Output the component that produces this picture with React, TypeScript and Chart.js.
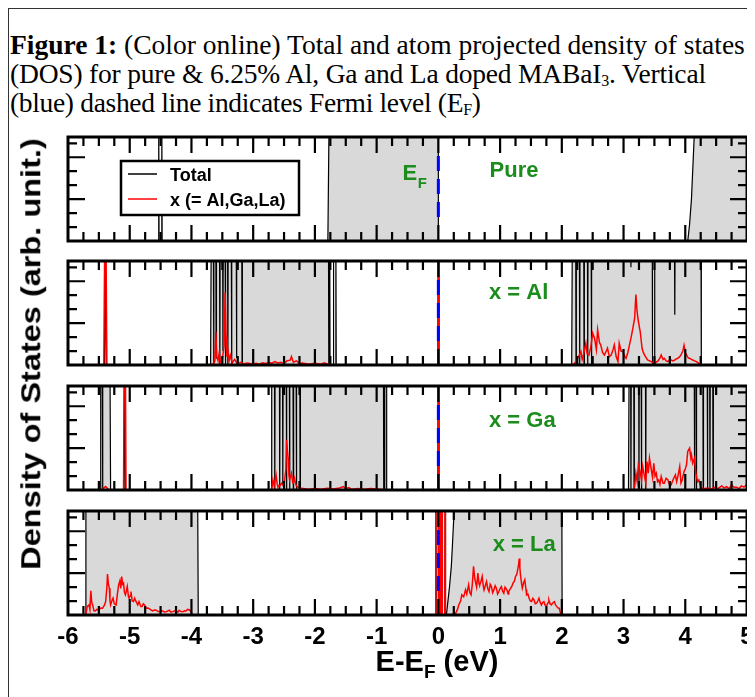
import React, { useEffect, useRef } from "react";
import { Chart, registerables } from "chart.js";
Chart.register(...registerables);

type Pt = [number, number];

// ---------- axis / tick data ----------
const xTickLabels = [-6, -5, -4, -3, -2, -1, 0, 1, 2, 3, 4, 5];
const xMinorStep = 0.25;
const yMajorTicks = [3, 6];
const yMinorTicks = [1, 2, 4, 5, 7];
const yMax = 7.45;
const panelLabels = ["Pure", "x = Al", "x = Ga", "x = La"];
const seriesNames = ["Total", "x (= Al,Ga,La)"];
const fermiDash: Pt[] = [[0, 1.72], [0, 6.16]];

// ---------- Pure ----------
const pureTotal: Pt[] = [
  [-6, 0], [-4.535, 0], [-4.53, 9], [-4.525, 0], [-4.485, 0], [-4.48, 9], [-4.475, 0],
  [-1.79, 0], [-1.77, 9], [0, 9], [0, 0],
  [4.04, 0], [4.07, 1.2], [4.1, 3], [4.12, 5], [4.14, 7], [4.16, 9], [5, 9],
];
const pureX: Pt[] = [];

// ---------- Al ----------
const alTotal: Pt[] = [
  [-6, 0], [-5.41, 0], [-5.395, 9], [-5.38, 0],
  [-3.69, 0], [-3.68, 9], [-3.645, 9], [-3.64, 0], [-3.635, 9], [-3.605, 9], [-3.6, 0.5], [-3.595, 9],
  [-3.545, 9], [-3.54, 0], [-3.535, 9], [-3.495, 9], [-3.49, 1], [-3.485, 9], [-3.455, 9], [-3.45, 0],
  [-3.445, 9], [-3.415, 9], [-3.41, 0], [-3.405, 9], [-3.355, 9], [-3.35, 0], [-3.345, 9], [-3.275, 9],
  [-3.27, 0.5], [-3.265, 9], [-3.185, 9], [-3.18, 0], [-3.175, 9], [-1.78, 9], [-1.775, 0], [-1.765, 0],
  [-1.76, 9], [-1.755, 0], [-1.705, 0], [-1.7, 9], [-1.695, 0], [-1.665, 0], [-1.66, 9], [-1.655, 0],
  [-0.01, 0], [0, 9], [0.01, 0],
  [2.16, 0], [2.17, 9], [2.225, 9], [2.23, 0], [2.235, 9], [2.285, 9], [2.29, 0], [2.295, 9], [2.355, 9],
  [2.36, 0], [2.365, 9], [2.415, 9], [2.42, 0], [2.425, 9], [2.475, 9], [2.48, 0], [2.485, 9], [3.115, 9],
  [3.12, 7], [3.125, 9], [3.465, 9], [3.47, 0], [3.5, 0], [3.505, 9], [3.825, 9], [3.83, 3.6], [3.835, 9],
  [4.255, 9], [4.26, 0], [5, 0],
];
const alX: Pt[] = [
  [-6, 0], [-5.42, 0], [-5.405, 9], [-5.385, 9], [-5.37, 0],
  [-3.7, 0], [-3.64, 0.1], [-3.62, 0.3], [-3.605, 2.4], [-3.59, 0.6], [-3.57, 0.3], [-3.55, 0.9], [-3.53, 0.2],
  [-3.5, 0.4], [-3.47, 1.4], [-3.455, 5.2], [-3.44, 2.0], [-3.425, 0.6], [-3.41, 1.1], [-3.39, 0.3], [-3.37, 0.7],
  [-3.34, 0.15], [-3.3, 0.4], [-3.26, 0.1], [-3.2, 0.2], [-3.15, 0.08], [-3.1, 0.15], [-3.0, 0.08], [-2.95, 0.12],
  [-2.9, 0.06], [-2.85, 0.15], [-2.8, 0.1], [-2.75, 0.2], [-2.7, 0.12], [-2.65, 0.25], [-2.6, 0.15], [-2.55, 0.2],
  [-2.5, 0.1], [-2.45, 0.3], [-2.4, 0.35], [-2.38, 0.6], [-2.35, 0.2], [-2.3, 0.3], [-2.25, 0.1], [-2.2, 0.15],
  [-2.1, 0.05], [-2.0, 0.12], [-1.9, 0.05], [-1.85, 0.15], [-1.8, 0.08], [-1.75, 0.02], [-1.7, 0],
  [-0.01, 0], [0, 9], [0.01, 0],
  [2.18, 0], [2.22, 0.2], [2.26, 0.5], [2.31, 0.96], [2.33, 0.4], [2.35, 0.72], [2.39, 1.56], [2.41, 0.8],
  [2.44, 0.72], [2.47, 1.3], [2.5, 2.28], [2.53, 1.92], [2.56, 1.1], [2.58, 2.52], [2.61, 1.6], [2.63, 1.44],
  [2.66, 0.9], [2.69, 0.72], [2.72, 1.0], [2.74, 1.2], [2.77, 0.6], [2.8, 0.72], [2.83, 1.1], [2.85, 1.44],
  [2.88, 0.6], [2.91, 0.24], [2.93, 1.56], [2.96, 1.0], [2.99, 0.96], [3.02, 0.6], [3.04, 0.48], [3.07, 0.9],
  [3.09, 1.32], [3.12, 1.92], [3.15, 2.6], [3.18, 3.37], [3.2, 5.05], [3.22, 3.8], [3.24, 3.13], [3.27, 2.4],
  [3.3, 1.2], [3.32, 0.9], [3.34, 0.72], [3.37, 0.5], [3.39, 0.36], [3.42, 0.3], [3.45, 0.24], [3.5, 0.12],
  [3.53, 0.2], [3.56, 0.29], [3.59, 0.5], [3.61, 0.72], [3.64, 0.4], [3.66, 0.48], [3.69, 0.3], [3.72, 0.24],
  [3.75, 0.4], [3.77, 0.36], [3.8, 0.3], [3.83, 0.36], [3.86, 0.45], [3.88, 0.48], [3.91, 0.6], [3.93, 0.72],
  [3.96, 1.0], [3.98, 1.4], [4.0, 0.9], [4.02, 0.72], [4.05, 0.5], [4.07, 0.48], [4.1, 0.4], [4.12, 0.36],
  [4.15, 0.3], [4.18, 0.24], [4.21, 0.15], [4.23, 0.05], [4.26, 0], [5, 0],
];

// ---------- Ga ----------
const gaTotal: Pt[] = [
  [-6, 0], [-5.48, 0], [-5.47, 9], [-5.445, 9], [-5.44, 0], [-5.435, 9], [-5.32, 9], [-5.31, 0],
  [-5.095, 0], [-5.085, 9], [-5.07, 0],
  [-2.71, 0], [-2.7, 9], [-2.655, 9], [-2.65, 0], [-2.645, 9], [-2.575, 9], [-2.57, 0], [-2.565, 9],
  [-2.525, 9], [-2.52, 0.3], [-2.515, 9], [-2.465, 9], [-2.46, 0], [-2.455, 9], [-2.415, 9], [-2.41, 0],
  [-2.405, 9], [-2.355, 9], [-2.35, 0], [-2.345, 9], [-2.305, 9], [-2.3, 0], [-2.295, 9], [-2.245, 9],
  [-2.24, 0], [-2.235, 9], [-0.89, 9], [-0.885, 0], [-0.875, 0], [-0.87, 9], [-0.865, 0], [-0.845, 0],
  [-0.84, 9], [-0.835, 0],
  [-0.01, 0], [0, 9], [0.01, 0],
  [3.08, 0], [3.09, 9], [3.115, 9], [3.12, 0], [3.125, 9], [3.165, 9], [3.17, 0], [3.175, 9], [3.245, 9],
  [3.25, 0], [3.255, 9], [3.285, 9], [3.29, 0], [3.295, 9], [3.355, 9], [3.36, 0], [3.365, 9], [4.145, 9],
  [4.15, 0], [4.155, 9], [4.175, 9], [4.18, 0], [4.185, 9], [4.285, 9], [4.29, 0], [4.295, 9], [4.355, 9],
  [4.36, 0], [4.365, 9], [4.395, 9], [4.4, 0], [4.405, 9], [4.445, 9], [4.45, 0], [4.455, 9], [5, 9],
];
const gaX: Pt[] = [
  [-6, 0], [-5.45, 0], [-5.42, 0.15], [-5.39, 0.25], [-5.36, 0.1], [-5.33, 0],
  [-5.1, 0], [-5.09, 9], [-5.07, 9], [-5.06, 0],
  [-2.7, 0], [-2.68, 0.72], [-2.66, 0.3], [-2.63, 1.08], [-2.61, 0.4], [-2.6, 0.24], [-2.57, 0.3], [-2.54, 0.48],
  [-2.51, 0.3], [-2.49, 0.72], [-2.47, 1.5], [-2.46, 3.6], [-2.445, 2.8], [-2.43, 2.16], [-2.42, 1.0],
  [-2.41, 0.72], [-2.38, 1.2], [-2.36, 0.5], [-2.35, 0.48], [-2.33, 0.84], [-2.31, 0.4], [-2.29, 0.24],
  [-2.24, 0.12], [-2.19, 0.1], [-2.1, 0.06], [-2.0, 0.1], [-1.9, 0.05], [-1.8, 0.12], [-1.7, 0.08], [-1.6, 0.15],
  [-1.54, 0.24], [-1.5, 0.1], [-1.45, 0.18], [-1.4, 0.05], [-1.3, 0.1], [-1.2, 0.06], [-1.1, 0.1], [-1.0, 0.08],
  [-0.9, 0.04], [-0.85, 0],
  [-0.01, 0], [0, 9], [0.01, 0],
  [3.16, 0], [3.18, 0.24], [3.2, 1.2], [3.22, 0.6], [3.24, 1.8], [3.27, 1.32], [3.29, 0.7], [3.31, 1.68],
  [3.34, 0.96], [3.36, 0.5], [3.38, 2.04], [3.4, 1.2], [3.42, 2.28], [3.45, 1.44], [3.47, 0.9], [3.49, 1.92],
  [3.51, 1.0], [3.53, 1.2], [3.55, 0.6], [3.57, 0.72], [3.59, 0.4], [3.61, 0.96], [3.64, 0.48], [3.66, 0.48],
  [3.69, 0.84], [3.72, 0.72], [3.75, 0.3], [3.77, 0.36], [3.8, 0.72], [3.82, 0.9], [3.84, 1.08], [3.86, 0.6],
  [3.88, 0.96], [3.91, 1.68], [3.93, 0.5], [3.95, 0.72], [3.98, 1.32], [4.0, 1.5], [4.02, 1.8], [4.04, 2.76],
  [4.07, 3.0], [4.09, 2.3], [4.1, 2.52], [4.12, 1.92], [4.15, 2.28], [4.17, 1.2], [4.2, 0.6], [4.22, 0.72],
  [4.25, 0.24], [4.29, 0.05], [4.33, 0.12], [4.37, 0.12], [4.42, 0.08], [4.48, 0.2], [4.53, 0.1], [4.59, 0.29],
  [4.63, 0.15], [4.67, 0.24], [4.71, 0.1], [4.75, 0.36], [4.79, 0.2], [4.83, 0.2], [4.87, 0.1], [4.91, 0.29],
  [4.95, 0.2], [4.99, 0.36], [5, 0.3],
];

// ---------- La ----------
const laTotal: Pt[] = [
  [-6, 0], [-5.72, 0], [-5.71, 9], [-3.9, 9], [-3.89, 0],
  [-0.045, 0], [-0.04, 9], [-0.035, 0], [0.025, 0], [0.03, 9], [0.035, 0], [0.055, 0], [0.06, 9],
  [0.065, 0], [0.105, 0], [0.11, 9], [0.115, 0],
  [0.13, 0], [0.15, 0.8], [0.18, 2], [0.21, 3.5], [0.23, 5.2], [0.25, 7], [0.26, 9], [2.0, 9], [2.005, 0], [5, 0],
];
const laX: Pt[] = [
  [-6, 0], [-5.72, 0], [-5.71, 0.05], [-5.69, 0.6], [-5.66, 0.72], [-5.645, 0.4], [-5.63, 1.73], [-5.615, 0.9],
  [-5.6, 0.72], [-5.58, 0.3], [-5.56, 0.29], [-5.53, 0.4], [-5.5, 0.36], [-5.47, 0.5], [-5.44, 0.48], [-5.41, 0.7],
  [-5.39, 0.96], [-5.37, 2.0], [-5.36, 2.93], [-5.345, 2.2], [-5.33, 1.92], [-5.32, 1.0], [-5.31, 0.72],
  [-5.29, 1.0], [-5.27, 1.2], [-5.25, 0.8], [-5.22, 0.72], [-5.2, 1.5], [-5.18, 2.16], [-5.16, 2.45],
  [-5.145, 1.9], [-5.13, 2.76], [-5.115, 2.2], [-5.1, 2.28], [-5.085, 1.6], [-5.07, 1.44], [-5.055, 1.7],
  [-5.04, 2.04], [-5.02, 1.3], [-5.01, 1.2], [-4.99, 1.4], [-4.98, 1.68], [-4.96, 1.0], [-4.94, 0.96],
  [-4.92, 1.2], [-4.91, 1.08], [-4.89, 0.9], [-4.87, 0.72], [-4.85, 0.96], [-4.82, 0.6], [-4.8, 0.6],
  [-4.78, 0.8], [-4.76, 0.72], [-4.73, 0.48], [-4.7, 0.5], [-4.68, 0.43], [-4.65, 0.35], [-4.63, 0.29],
  [-4.6, 0.36], [-4.57, 0.34], [-4.54, 0.25], [-4.52, 0.24], [-4.49, 0.3], [-4.47, 0.29], [-4.44, 0.22],
  [-4.41, 0.24], [-4.38, 0.3], [-4.36, 0.34], [-4.33, 0.2], [-4.3, 0.24], [-4.27, 0.3], [-4.25, 0.29],
  [-4.22, 0.2], [-4.2, 0.34], [-4.17, 0.25], [-4.14, 0.24], [-4.11, 0.3], [-4.09, 0.29], [-4.06, 0.4],
  [-4.03, 0.36], [-4.01, 0.24], [-3.98, 0],
  [-0.045, 0], [-0.04, 9], [-0.005, 9], [0, 0], [0.025, 0], [0.03, 9], [0.035, 0], [0.055, 0], [0.06, 9],
  [0.065, 0], [0.105, 0], [0.11, 9], [0.115, 0],
  [0.2, 0], [0.28, 0.12], [0.31, 0.4], [0.33, 0.72], [0.36, 1.0], [0.38, 1.44], [0.41, 1.3], [0.44, 1.8],
  [0.46, 1.5], [0.49, 2.16], [0.51, 1.6], [0.53, 1.44], [0.55, 2.2], [0.57, 3.49], [0.59, 2.6], [0.6, 2.4],
  [0.62, 2.0], [0.64, 3.0], [0.66, 2.2], [0.67, 2.16], [0.69, 2.4], [0.71, 2.76], [0.73, 2.0], [0.74, 1.8],
  [0.76, 2.1], [0.78, 2.4], [0.8, 1.9], [0.82, 1.68], [0.84, 2.2], [0.86, 2.04], [0.88, 1.6], [0.9, 1.8],
  [0.92, 2.1], [0.94, 1.92], [0.96, 1.5], [0.98, 1.68], [1.0, 1.9], [1.02, 2.04], [1.04, 1.7], [1.06, 1.56],
  [1.08, 2.0], [1.11, 1.8], [1.13, 1.5], [1.14, 1.68], [1.17, 1.9], [1.19, 2.04], [1.21, 2.3], [1.23, 2.4],
  [1.25, 2.76], [1.27, 2.9], [1.28, 3.13], [1.3, 3.6], [1.31, 4.04], [1.32, 3.4], [1.33, 2.88], [1.35, 2.2],
  [1.36, 1.92], [1.38, 2.3], [1.4, 2.52], [1.42, 1.8], [1.43, 1.44], [1.45, 1.5], [1.47, 1.2], [1.49, 1.0],
  [1.51, 0.96], [1.53, 1.2], [1.55, 1.08], [1.57, 0.8], [1.59, 0.84], [1.61, 1.0], [1.63, 1.2], [1.65, 0.9],
  [1.67, 0.72], [1.69, 0.9], [1.71, 0.96], [1.73, 0.7], [1.76, 0.72], [1.78, 0.9], [1.79, 1.08], [1.81, 0.8],
  [1.83, 0.72], [1.86, 0.9], [1.88, 0.96], [1.9, 0.7], [1.92, 0.6], [1.94, 0.5], [1.96, 0.48], [1.98, 0.1],
  [2.0, 0], [5, 0],
];

// ---------- styling ----------
const SANS = '"Liberation Sans", Arial, Helvetica, sans-serif';
const SERIF = '"Liberation Serif", "Times New Roman", Times, serif';
const GREEN = "#1c8c1c";
const GRAY = "#d9d9d9";
const PANEL_W = 747;
const PAD_L = 60;
const PAD_R = 8;
const PAD_T = 4;
const AREA_H = 104;
const AXIS_FONT = 24;
const AXIS_GAP = 8;

const toXY = (d: Pt[]) => d.map(([x, y]) => ({ x, y }));

const decorPlugin = {
  id: "panelDecor",
  afterDatasetsDraw(chart: any, _a: any, opts: any) {
    const { ctx, chartArea: a, scales } = chart;
    const xs = scales.x;
    const ys = scales.y;
    ctx.save();
    // inward ticks
    ctx.strokeStyle = "#000";
    ctx.lineWidth = 2.2;
    ctx.beginPath();
    const xmin = xTickLabels[0];
    const xmax = xTickLabels[xTickLabels.length - 1];
    const n = Math.round((xmax - xmin) / xMinorStep);
    for (let i = 1; i < n; i++) {
      const v = xmin + i * xMinorStep;
      const major = xTickLabels.includes(v);
      const L = major ? 16 : 9;
      const p = xs.getPixelForValue(v);
      ctx.moveTo(p, a.top);
      ctx.lineTo(p, a.top + L);
      ctx.moveTo(p, a.bottom);
      ctx.lineTo(p, a.bottom - L);
    }
    const yt = [...yMajorTicks.map((v) => [v, 17]), ...yMinorTicks.map((v) => [v, 9])];
    for (const [v, L] of yt) {
      const p = ys.getPixelForValue(v);
      ctx.moveTo(a.left, p);
      ctx.lineTo(a.left + L, p);
      ctx.moveTo(a.right, p);
      ctx.lineTo(a.right - L, p);
    }
    ctx.stroke();
    // frame
    ctx.lineWidth = 3;
    ctx.strokeRect(a.left, a.top, a.right - a.left, a.bottom - a.top);

    // panel label
    ctx.fillStyle = GREEN;
    ctx.font = `bold 22px ${SANS}`;
    ctx.textBaseline = "alphabetic";
    ctx.textAlign = "left";
    ctx.fillText(opts.label, xs.getPixelForValue(opts.labelX), a.top + opts.labelDy);

    if (opts.showEF) {
      const ex = xs.getPixelForValue(-0.58);
      ctx.font = `bold 22px ${SANS}`;
      ctx.fillText("E", ex, a.top + 43);
      const w = ctx.measureText("E").width;
      ctx.font = `bold 15px ${SANS}`;
      ctx.fillText("F", ex + w + 0.5, a.top + 51);
    }

    if (opts.showLegend) {
      const bx = a.left + 53;
      const by = a.top + 24;
      const bw = 178;
      const bh = 54;
      ctx.fillStyle = "#fff";
      ctx.fillRect(bx, by, bw, bh);
      ctx.strokeStyle = "#000";
      ctx.lineWidth = 2.5;
      ctx.strokeRect(bx, by, bw, bh);
      const items = [
        { text: seriesNames[0], color: "#000", dy: 13 },
        { text: seriesNames[1], color: "#ff0000", dy: 38 },
      ];
      ctx.font = `bold 18px ${SANS}`;
      ctx.textBaseline = "middle";
      for (const it of items) {
        ctx.strokeStyle = it.color;
        ctx.lineWidth = 1.5;
        ctx.beginPath();
        ctx.moveTo(bx + 7, by + it.dy);
        ctx.lineTo(bx + 36, by + it.dy);
        ctx.stroke();
        ctx.fillStyle = "#000";
        ctx.fillText(it.text, bx + 49, by + it.dy + 2);
      }
    }
    ctx.restore();
  },
};

type PanelProps = {
  top: number;
  total: Pt[];
  xdos: Pt[];
  label: string;
  labelX: number;
  labelDy: number;
  bottom?: boolean;
  showEF?: boolean;
  showLegend?: boolean;
};

function Panel(p: PanelProps) {
  const ref = useRef<HTMLCanvasElement>(null);
  const axisH = p.bottom ? AXIS_FONT * 1.2 + AXIS_GAP : 0;
  const height = Math.ceil(PAD_T + AREA_H + axisH + 4);
  const padB = height - PAD_T - AREA_H - axisH;
  useEffect(() => {
    const chart = new Chart(ref.current!, {
      type: "line",
      data: {
        datasets: [
          {
            label: "EF",
            data: toXY(fermiDash),
            borderColor: "#0000ff",
            borderWidth: 3,
            borderDash: [15, 8],
            pointRadius: 0,
            fill: false,
            order: 1,
          },
          {
            label: seriesNames[1],
            data: toXY(p.xdos),
            borderColor: "#ff0000",
            borderWidth: 1.5,
            pointRadius: 0,
            fill: false,
            tension: 0,
            order: 2,
          },
          {
            label: seriesNames[0],
            data: toXY(p.total),
            borderColor: "#000000",
            borderWidth: 1.2,
            backgroundColor: GRAY,
            pointRadius: 0,
            fill: "origin",
            tension: 0,
            order: 3,
          },
        ],
      },
      options: {
        animation: false,
        responsive: false,
        devicePixelRatio: 1,
        layout: { padding: { left: PAD_L, right: PAD_R, top: PAD_T, bottom: padB } },
        plugins: {
          legend: { display: false },
          tooltip: { enabled: false },
          panelDecor: {
            label: p.label,
            labelX: p.labelX,
            labelDy: p.labelDy,
            showEF: !!p.showEF,
            showLegend: !!p.showLegend,
          },
        } as any,
        scales: {
          x: {
            type: "linear",
            min: xTickLabels[0],
            max: xTickLabels[xTickLabels.length - 1],
            display: !!p.bottom,
            grid: { display: false, drawTicks: true, tickLength: AXIS_GAP },
            border: { display: false },
            afterBuildTicks: (s: any) => {
              s.ticks = xTickLabels.map((v) => ({ value: v }));
            },
            ticks: {
              autoSkip: false,
              maxRotation: 0,
              padding: 0,
              color: "#000",
              font: { family: SANS, size: AXIS_FONT, weight: "bold" },
              callback: (v: any) => String(v),
            },
          },
          y: { type: "linear", min: 0, max: yMax, display: false },
        },
      },
      plugins: [decorPlugin],
    } as any);
    return () => chart.destroy();
  }, []);
  return (
    <canvas
      ref={ref}
      width={PANEL_W}
      height={height}
      style={{ position: "absolute", left: 0, top: p.top, width: PANEL_W, height, display: "block" }}
    />
  );
}

export default function App() {
  return (
    <div style={{ position: "relative", width: 747, height: 689, overflow: "hidden" }}>
      <div
        style={{
          position: "absolute",
          left: 0,
          top: 0,
          right: -10,
          bottom: -10,
          borderTop: "1px solid #333",
          borderLeft: "1px solid #333",
        }}
      />
      <div
        style={{
          position: "absolute",
          left: 2,
          top: 22,
          fontFamily: SERIF,
          fontSize: 27.5,
          lineHeight: "29px",
          whiteSpace: "nowrap",
          color: "#000",
        }}
      >
        <span>
          <b>Figure 1:</b> (Color online) Total and atom projected density of states
        </span>
        <br />
        <span style={{ letterSpacing: "-0.19px" }}>
          (DOS) for pure &amp; 6.25% Al, Ga and La doped MABaI
          <sub style={{ fontSize: 16, lineHeight: 0, verticalAlign: "-3px" }}>3</sub>. Vertical
        </span>
        <br />
        <span style={{ letterSpacing: "-0.33px" }}>
          (blue) dashed line indicates Fermi level (E
          <sub style={{ fontSize: 16, lineHeight: 0, verticalAlign: "-3px" }}>F</sub>)
        </span>
      </div>

      <Panel top={125} total={pureTotal} xdos={pureX} label={panelLabels[0]} labelX={0.83} labelDy={40} showEF showLegend />
      <Panel top={249} total={alTotal} xdos={alX} label={panelLabels[1]} labelX={0.82} labelDy={38} />
      <Panel top={374} total={gaTotal} xdos={gaX} label={panelLabels[2]} labelX={0.82} labelDy={41} />
      <Panel top={499} total={laTotal} xdos={laX} label={panelLabels[3]} labelX={0.88} labelDy={40} bottom />

      <div
        style={{
          position: "absolute",
          left: 23,
          top: 346,
          transform: "translate(-50%, -50%) rotate(-90deg) scale(1, 0.85)",
          fontFamily: SANS,
          fontWeight: "bold",
          fontSize: 32.5,
          whiteSpace: "nowrap",
          color: "#000",
        }}
      >
        Density of States (arb. unit.)
      </div>
      <div
        style={{
          position: "absolute",
          left: 429,
          top: 653,
          transform: "translate(-50%, -50%)",
          fontFamily: SANS,
          fontWeight: "bold",
          fontSize: 29,
          whiteSpace: "nowrap",
          color: "#000",
        }}
      >
        E-E<sub style={{ fontSize: 19, lineHeight: 0, verticalAlign: "-7px" }}>F</sub> (eV)
      </div>
    </div>
  );
}
